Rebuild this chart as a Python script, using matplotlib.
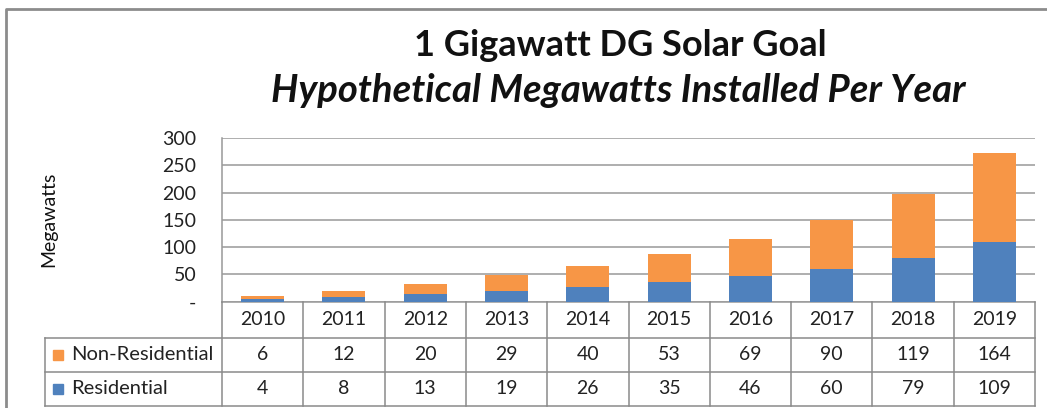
import matplotlib
matplotlib.use("Agg")
import matplotlib.pyplot as plt
from matplotlib.lines import Line2D
from matplotlib.patches import Rectangle
import matplotlib.transforms as mtransforms

years = ["2010", "2011", "2012", "2013", "2014", "2015", "2016", "2017", "2018", "2019"]
non_residential = [6, 12, 20, 29, 40, 53, 69, 90, 119, 164]
residential = [4, 8, 13, 19, 26, 35, 46, 60, 79, 109]
series_names = ["Non-Residential", "Residential"]
yticks = [0, 50, 100, 150, 200, 250, 300]
ytick_labels = ["-", "50", "100", "150", "200", "250", "300"]

ORANGE = "#F79646"
BLUE = "#4F81BD"
GRID = "#999999"
BORDER = "#8c8c8c"

plt.rcParams['font.family'] = ['Lato', 'DejaVu Sans']

W, H = 1047, 408
fig = plt.figure(figsize=(W / 100, H / 100), dpi=100)

def fx(px):
    return px / W

def fy(py):
    return 1 - py / H

# plot area in pixels
L, R, T, B = 222, 1035, 138, 301.5
ax = fig.add_axes([fx(L), fy(B), fx(R) - fx(L), fy(T) - fy(B)])

x = list(range(len(years)))
ax.bar(x, residential, width=0.53, color=BLUE, zorder=3)
ax.bar(x, non_residential, width=0.53, bottom=residential, color=ORANGE, zorder=3)
ax.set_xlim(-0.5, len(years) - 0.5)
ax.set_ylim(0, 300)
ax.set_yticks(yticks)
ax.set_yticklabels(ytick_labels, fontsize=14, color="#222222")
ax.tick_params(axis='y', length=0, pad=18.5)
ax.set_xticks([])
ax.grid(axis='y', color=GRID, linewidth=1.1, zorder=0)
for s in ["top", "right"]:
    ax.spines[s].set_visible(False)
ax.spines["left"].set_color(GRID)
ax.spines["bottom"].set_color(GRID)
ax.spines["left"].set_linewidth(1.1)
ax.spines["bottom"].set_linewidth(1.1)

fig.text(fx(49), fy(219), "Megawatts", rotation=90, ha='center', va='center',
         fontsize=14, color="#111111")

# data table
blend = mtransforms.blended_transform_factory(ax.transData, fig.transFigure)
row_y = [301.5, 338, 372, 405.5]
lc = "#8a8a8a"
for py in row_y[1:]:
    fig.add_artist(Line2D([fx(45), fx(R)], [fy(py), fy(py)], color=lc, lw=1.1))
for i in range(len(years) + 1):
    fig.add_artist(Line2D([i - 0.5, i - 0.5], [fy(row_y[0]), fy(row_y[3])],
                          transform=blend, color=lc, lw=1.1))
fig.add_artist(Line2D([fx(45), fx(45)], [fy(row_y[1]), fy(row_y[3])], color=lc, lw=1.1))

tc = "#222222"
fs = 14
for i, yr in enumerate(years):
    fig.text(i, fy((row_y[0] + row_y[1]) / 2), yr, transform=blend,
             ha='center', va='center', fontsize=fs, color=tc)
    fig.text(i, fy((row_y[1] + row_y[2]) / 2), str(non_residential[i]), transform=blend,
             ha='center', va='center', fontsize=fs, color=tc)
    fig.text(i, fy((row_y[2] + row_y[3]) / 2), str(residential[i]), transform=blend,
             ha='center', va='center', fontsize=fs, color=tc)

for name, color, r in [(series_names[0], ORANGE, 1), (series_names[1], BLUE, 2)]:
    cy = (row_y[r] + row_y[r + 1]) / 2
    fig.add_artist(Rectangle((fx(53), fy(cy + 5)), fx(10), fy(cy - 5) - fy(cy + 5),
                             color=color, transform=fig.transFigure))
    fig.text(fx(71), fy(cy), name, ha='left', va='center', fontsize=14.5, color=tc)

# titles
fig.text(fx(620), fy(45), "1 Gigawatt DG Solar Goal", ha='center', va='center',
         fontsize=26, fontweight='bold', color="#111111")
fig.text(fx(618), fy(91), "Hypothetical Megawatts Installed Per Year", ha='center', va='center',
         fontsize=27.5, fontweight='bold', fontstyle='italic', color="#111111")

# outer chart border
fig.add_artist(Line2D([fx(6), fx(6), fx(W)], [fy(H), fy(8.5), fy(8.5)],
                      color=BORDER, lw=2))

fig.savefig("out.png", dpi=100)
